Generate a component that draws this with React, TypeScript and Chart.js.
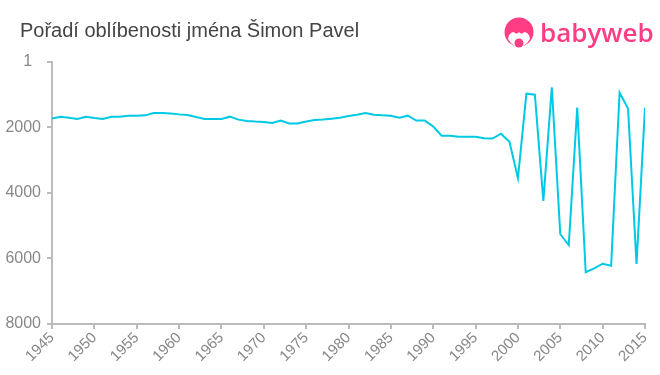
import React, { useEffect, useRef } from "react";
import { Chart, registerables } from "chart.js";

Chart.register(...registerables);

const years = [
  1945, 1946, 1947, 1948, 1949, 1950, 1951, 1952, 1953, 1954,
  1955, 1956, 1957, 1958, 1959, 1960, 1961, 1962, 1963, 1964,
  1965, 1966, 1967, 1968, 1969, 1970, 1971, 1972, 1973, 1974,
  1975, 1976, 1977, 1978, 1979, 1980, 1981, 1982, 1983, 1984,
  1985, 1986, 1987, 1988, 1989, 1990, 1991, 1992, 1993, 1994,
  1995, 1996, 1997, 1998, 1999, 2000, 2001, 2002, 2003, 2004,
  2005, 2006, 2007, 2008, 2009, 2010, 2011, 2012, 2013, 2014,
  2015,
];

const ranks = [
  1730, 1670, 1700, 1740, 1670, 1710, 1740, 1670, 1670, 1640,
  1640, 1630, 1560, 1560, 1570, 1600, 1620, 1680, 1740, 1740,
  1740, 1670, 1760, 1800, 1820, 1830, 1860, 1790, 1880, 1880,
  1820, 1770, 1760, 1730, 1700, 1650, 1610, 1560, 1610, 1630,
  1640, 1700, 1640, 1790, 1790, 1970, 2250, 2250, 2280, 2280,
  2280, 2330, 2340, 2190, 2440, 3550, 967, 1000, 4245, 773,
  5260, 5590, 1395, 6420, 6300, 6160, 6220, 937, 1425, 6170,
  1395,
];

const yTickValues = [1, 2000, 4000, 6000, 8000];
const xTickValues = [1945, 1950, 1955, 1960, 1965, 1970, 1975, 1980, 1985, 1990, 1995, 2000, 2005, 2010, 2015];

const titleText = "Pořadí oblíbenosti jména Šimon Pavel";
const logoText = "babyweb";

const FONT = "'Liberation Sans', Arial, Helvetica, sans-serif";

export default function App() {
  const ref = useRef<HTMLCanvasElement>(null);

  useEffect(() => {
    document.body.style.margin = "0";
    const chart = new Chart(ref.current as HTMLCanvasElement, {
      type: "line",
      data: {
        datasets: [
          {
            data: years.map((x, i) => ({ x, y: ranks[i] })),
            borderColor: "#00c9e6",
            borderWidth: 2,
            pointRadius: 0,
            tension: 0,
            fill: false,
          },
        ],
      },
      options: {
        animation: false,
        responsive: false,
        layout: { padding: { top: 62, right: 15, left: 0, bottom: 0 } },
        plugins: {
          legend: { display: false },
          tooltip: { enabled: false },
          title: { display: false },
        },
        scales: {
          x: {
            type: "linear",
            min: 1945,
            max: 2015,
            afterBuildTicks: (s: any) => {
              s.ticks = xTickValues.map((v) => ({ value: v }));
            },
            afterFit: (s: any) => {
              s.height = 51;
            },
            grid: {
              drawOnChartArea: false,
              drawTicks: true,
              tickLength: 5,
              color: "#bbbbbb",
              lineWidth: 2,
            },
            border: { color: "#bbbbbb", width: 2 },
            ticks: {
              autoSkip: false,
              maxRotation: 45,
              minRotation: 45,
              color: "#888888",
              padding: 0,
              font: { size: 15, family: FONT },
              callback: (v: any) => String(v),
            },
          },
          y: {
            type: "linear",
            reverse: true,
            min: 1,
            max: 8000,
            afterBuildTicks: (s: any) => {
              s.ticks = yTickValues.map((v) => ({ value: v }));
            },
            afterFit: (s: any) => {
              s.width = 52;
            },
            grid: {
              drawOnChartArea: false,
              drawTicks: true,
              tickLength: 5,
              color: "#bbbbbb",
              lineWidth: 2,
            },
            border: { color: "#bbbbbb", width: 2 },
            ticks: {
              color: "#888888",
              padding: 6,
              font: { size: 16, family: FONT },
              callback: (v: any) => (v === 1 ? "1  " : String(v)),
            },
          },
        },
      },
    } as any);
    return () => chart.destroy();
  }, []);

  return (
    <div style={{ position: "relative", width: 660, height: 375, background: "#fff", overflow: "hidden" }}>
      <canvas ref={ref} width={660} height={375} style={{ position: "absolute", left: 0, top: 0 }} />
      <div
        style={{
          position: "absolute",
          left: 20,
          top: 19,
          fontFamily: FONT,
          fontSize: 20,
          lineHeight: "22px",
          color: "#444444",
          whiteSpace: "nowrap",
        }}
      >
        {titleText}
      </div>
      <svg
        width={32}
        height={34}
        viewBox="0 0 32 34"
        style={{ position: "absolute", left: 503, top: 17 }}
      >
        <circle cx={16} cy={15} r={14.5} fill="#ff3d84" />
        <path d="M5 22 Q6 15 11 15 Q13 18 16 15 Q19 18 21 15 Q26 15 27 22 Q22 30 16 30 Q10 30 5 22 Z" fill="#ffffff" />
        <circle cx={16} cy={26} r={4.5} fill="#ff3d84" />
      </svg>
      <div
        style={{
          position: "absolute",
          left: 540,
          top: 16,
          fontFamily: "'Open Sans', 'Noto Sans', sans-serif",
          fontSize: 26,
          fontWeight: 600,
          lineHeight: "32px",
          color: "#ff3d84",
          whiteSpace: "nowrap",
        }}
      >
        {logoText}
      </div>
    </div>
  );
}
